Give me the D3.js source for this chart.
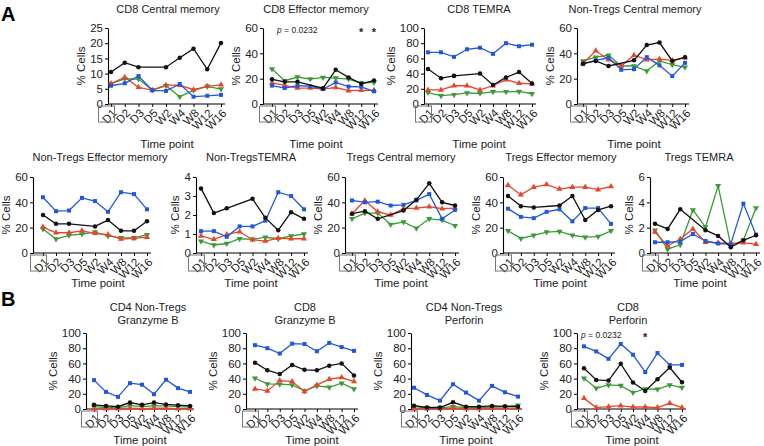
<!DOCTYPE html>
<html><head><meta charset="utf-8">
<script src="https://cdn.jsdelivr.net/npm/d3@7"></script>
<style>body{margin:0;background:#fff} text{font-family:"Liberation Sans",Arial,sans-serif;fill:#222}</style>
</head><body><svg id="c" width="764" height="446"></svg>
<script>
const timePoints = ["D1","D2","D3","D5","W2","W4","W8","W12","W16"];
const panelTitles = [
  ["CD8 Central memory"],["CD8 Effector memory"],["CD8 TEMRA"],["Non-Tregs Central memory"],
  ["Non-Tregs Effector memory"],["Non-TregsTEMRA"],["Tregs Central memory"],["Tregs Effector memory"],["Tregs TEMRA"],
  ["CD4 Non-Tregs","Granzyme B"],["CD8","Granzyme B"],["CD4 Non-Tregs","Perforin"],["CD8","Perforin"]
];
const yMaxes = [25,60,100,60, 60,4,60,60,6, 100,100,100,100];
const yStepsTick = [5,20,20,20, 20,1,20,20,2, 20,20,20,20];

// series values (black, blue, red, green) per panel
const cd8CM_black = [10.5,13.6,12.1,null,12.1,15.2,18.2,11.4,20.1];
const cd8CM_blue  = [6,6.8,9.2,4.5,4.3,6.6,2.4,2.7,3.0];
const cd8CM_red   = [6.7,8.8,5.5,4.6,6.2,6.2,4.7,5.8,6.3];
const cd8CM_green = [6.7,8.3,8.2,4.6,6,2.4,4.5,5.8,4.9];

const cd8EM_black = [19.5,17.5,17.5,null,12.5,27,21,16,18.5];
const cd8EM_blue  = [14.5,12.6,14.5,14,11.8,17,13.8,13.6,10];
const cd8EM_red   = [16.6,14.7,12.6,12.6,11.8,13,10.5,10.8,10.8];
const cd8EM_green = [27.6,18.4,21.3,19.7,21,20.5,19.7,16.6,17];

const cd8TEMRA_black = [46,34,37,null,40,25,35,42,27];
const cd8TEMRA_blue  = [68,68,62,72,74,66,80,76,78];
const cd8TEMRA_red   = [18.5,18.5,24,24,18.5,24,32,27.3,26.4];
const cd8TEMRA_green = [15,11,12.3,14.5,14,16,16,16.5,13.5];

const ntCM_black = [32,34,30,null,34.5,46.5,48.5,34,37];
const ntCM_blue  = [31.5,34.5,36.5,27,27.5,37,30.5,22,32.5];
const ntCM_red   = [32,42,35,30,38.5,35,35.5,34.5,36.5];
const ntCM_green = [34,37,38.5,30,30,26,34,31,29];

const ntEM_black = [30,23,23,null,21,26,17.5,17.5,25];
const ntEM_blue  = [44,33,33.5,43.5,41,32.5,48,46.5,34.5];
const ntEM_red   = [20.5,16,16,17.5,15.5,14.5,11,11.5,12.5];
const ntEM_green = [19,11,14,15,16.5,13.5,12,12,14.5];

const ntTEMRA_black = [3.4,2.1,2.35,null,2.85,1.85,1.2,2.15,1.8];
const ntTEMRA_blue  = [1.15,1.15,0.85,1.4,1.4,1.7,3.2,3.0,2.3];
const ntTEMRA_red   = [0.9,0.72,0.97,1.12,0.7,0.63,0.78,0.75,0.75];
const ntTEMRA_green = [0.62,0.42,0.5,0.75,0.72,0.83,0.75,0.9,1.0];

const tregCM_black = [31,33,27,null,33.5,42,55,40,37.5];
const tregCM_blue  = [41.5,40,40.5,37.5,38,41.5,46.5,27,34];
const tregCM_red   = [31,41.5,32.5,30,35,35.5,36.5,35,35.5];
const tregCM_green = [27,31.5,31.5,22.5,24.5,19.5,27,26,21.5];

const tregEM_black = [45,37,36,null,37.5,45,26,34,37];
const tregEM_blue  = [35,28.5,27.5,32.5,34.5,25,35.5,35.5,23];
const tregEM_red   = [53.5,46,52,54,50.5,52,52,50,52.5];
const tregEM_green = [17.5,11.5,14,16.5,17,14,12.5,13,17.5];

const tregTEMRA_black = [2.3,1.9,3.45,null,1.8,1.35,0.45,1.0,1.4];
const tregTEMRA_blue  = [0.85,0.85,0.9,1.5,0.95,0.75,0.7,3.9,1.45];
const tregTEMRA_red   = [1.65,0.55,1.1,1.9,0.85,0.8,0.75,0.8,0.7];
const tregTEMRA_green = [1.8,0.3,0.65,3.4,2.05,5.3,0.6,1.0,3.55];

const cd4GzmB_black = [5.5,4,3,8.5,5.5,8.5,6,5,4];
const cd4GzmB_blue  = [38,22.5,16,34,32,19.5,38.5,27.5,22.5];
const cd4GzmB_red   = [0.5,0.5,0.5,1,0.5,1,1,0.5,0.5];
const cd4GzmB_green = [3,2,1.5,4.5,3,4,4,3,2.5];

const cd8GzmB_black = [61,51,46,58,51.5,51,57,60,44];
const cd8GzmB_blue  = [84,80,73,86,85.5,76,87,81.5,76.5];
const cd8GzmB_red   = [26.4,23.8,37.4,36.1,23,31.7,39.2,41.4,36.1];
const cd8GzmB_green = [40.5,33,32.6,31.7,23.8,30.4,28.6,34,26.4];

const cd4Prf_black = [4.4,2,2,8.8,3,3,4,3.5,3];
const cd4Prf_blue  = [28,18.5,11,32.6,21.6,11,30.4,22,16.3];
const cd4Prf_red   = [0.5,0.5,0.5,1,0.5,0.5,1,1,1];
const cd4Prf_green = [3,1.5,1.5,3,2,2,2.5,3,5];

const cd8Prf_black = [53.7,38.3,37.4,59.5,34.8,23.8,39.2,54.6,35.2];
const cd8Prf_blue  = [82.4,75.8,66,85.5,71.4,48.5,73.6,58,58];
const cd8Prf_red   = [14,1.8,3,4.4,2.6,2.6,1.8,7.5,1.8];
const cd8Prf_green = [40.5,27.3,31.7,30.8,21.6,26.4,26,31.7,28.2];

const panelSeries = [
  [cd8CM_black,cd8CM_blue,cd8CM_red,cd8CM_green],
  [cd8EM_black,cd8EM_blue,cd8EM_red,cd8EM_green],
  [cd8TEMRA_black,cd8TEMRA_blue,cd8TEMRA_red,cd8TEMRA_green],
  [ntCM_black,ntCM_blue,ntCM_red,ntCM_green],
  [ntEM_black,ntEM_blue,ntEM_red,ntEM_green],
  [ntTEMRA_black,ntTEMRA_blue,ntTEMRA_red,ntTEMRA_green],
  [tregCM_black,tregCM_blue,tregCM_red,tregCM_green],
  [tregEM_black,tregEM_blue,tregEM_red,tregEM_green],
  [tregTEMRA_black,tregTEMRA_blue,tregTEMRA_red,tregTEMRA_green],
  [cd4GzmB_black,cd4GzmB_blue,cd4GzmB_red,cd4GzmB_green],
  [cd8GzmB_black,cd8GzmB_blue,cd8GzmB_red,cd8GzmB_green],
  [cd4Prf_black,cd4Prf_blue,cd4Prf_red,cd4Prf_green],
  [cd8Prf_black,cd8Prf_blue,cd8Prf_red,cd8Prf_green]
];
const pValueText = "0.0232";
const significance = [ {panel:1, tps:["W12","W16"]}, {panel:12, tps:["W4"]} ];

// styling / layout
const colors = ["#111111","#2157dc","#e5462c","#3a9a35"];
const drawOrder = [3,2,1,0];
const rows = [
  {yTop:28, yBot:104, titleY:13, xlabY:148},
  {yTop:177, yBot:253, titleY:161, xlabY:287},
  {yTop:333, yBot:409, titleY:311, xlabY:444}
];
const layout = [
  {r:0, ax:108, x0:111, x1:221, cx:167, tx:168},
  {r:0, ax:263, x0:272, x1:374, cx:316, tx:316},
  {r:0, ax:424, x0:428, x1:532, cx:479, tx:479},
  {r:0, ax:577, x0:583, x1:685, cx:634, tx:635},
  {r:1, ax:33, x0:43, x1:147, cx:98, tx:100},
  {r:1, ax:196, x0:201, x1:304, cx:251, tx:251},
  {r:1, ax:345, x0:352, x1:455, cx:401, tx:401},
  {r:1, ax:503, x0:508, x1:611, cx:560, tx:561},
  {r:1, ax:650, x0:655, x1:756, cx:700, tx:699},
  {r:2, ax:86, x0:94, x1:190, cx:140, tx:148},
  {r:2, ax:246, x0:255, x1:354, cx:312, tx:305},
  {r:2, ax:411, x0:414, x1:518, cx:466, tx:464},
  {r:2, ax:577, x0:584, x1:682, cx:632, tx:628}
];

const svg = d3.select("#c");
svg.append("text").attr("x",1).attr("y",21).attr("font-size",20).attr("font-weight","bold").style("fill","#000").text("A");
svg.append("text").attr("x",1).attr("y",306).attr("font-size",20).attr("font-weight","bold").style("fill","#000").text("B");

const symbolOf = [d3.symbolCircle, d3.symbolSquare, d3.symbolTriangle, d3.symbolTriangle];
const symSize = [16,16,16,16];

panelSeries.forEach((series, i) => {
  const L = layout[i], R = rows[L.r];
  const x = d3.scalePoint().domain(timePoints).range([L.x0, L.x1]);
  const y = d3.scaleLinear().domain([0, yMaxes[i]]).range([R.yBot, R.yTop]);
  const g = svg.append("g");

  // y axis
  const ya = g.append("g").attr("transform",`translate(${L.ax},0)`)
    .call(d3.axisLeft(y).tickValues(d3.range(0, yMaxes[i]+1e-9, yStepsTick[i])).tickSize(3).tickSizeOuter(0).tickPadding(2).tickFormat(d3.format("d")));
  ya.select(".domain").attr("stroke","#000").attr("stroke-width",1.1);
  ya.selectAll(".tick line").attr("stroke","#000");
  ya.selectAll(".tick text").attr("font-size",11.5).attr("font-family","Liberation Sans, Arial, sans-serif").style("fill","#222");
  let maxW = 0;
  ya.selectAll(".tick text").each(function(){ maxW = Math.max(maxW, this.getBBox().width); });

  // x axis
  g.append("line").attr("x1",L.ax).attr("x2",L.x1+4).attr("y1",R.yBot).attr("y2",R.yBot).attr("stroke","#000").attr("stroke-width",1.1);
  const xa = g.append("g").attr("transform",`translate(0,${R.yBot})`)
    .call(d3.axisBottom(x).tickSize(3).tickSizeOuter(0));
  xa.select(".domain").remove();
  xa.selectAll(".tick line").attr("stroke","#000");
  xa.selectAll(".tick text").attr("font-size",11.5).attr("font-family","Liberation Sans, Arial, sans-serif")
    .attr("text-anchor","end").attr("x",0).attr("y",0).attr("dy","0.35em")
    .attr("transform","translate(3,7) rotate(-45)").style("fill","#222");
  xa.selectAll(".tick").filter(d => d === "D1").append("rect")
    .attr("x",-13).attr("y",2).attr("width",16).attr("height",16)
    .attr("fill","none").attr("stroke","#777").attr("stroke-width",1);

  // title
  panelTitles[i].forEach((t, k) => {
    g.append("text").attr("x",L.tx).attr("y",R.titleY + k*13).attr("text-anchor","middle")
      .attr("font-size",11).text(t);
  });
  // y label
  const ylx = L.ax - 5 - maxW - 5;
  g.append("text").attr("transform",`translate(${ylx},${(R.yTop+R.yBot)/2}) rotate(-90)`)
    .attr("text-anchor","middle").attr("font-size",11.5).text("% Cells");
  // x label
  g.append("text").attr("x",L.cx).attr("y",R.xlabY).attr("text-anchor","middle").attr("font-size",11.5).text("Time point");

  // series
  drawOrder.forEach(s => {
    const pts = timePoints.map((t,j) => ({t, v: series[s][j]})).filter(d => d.v !== null);
    g.append("path").datum(pts)
      .attr("d", d3.line().x(d => x(d.t)).y(d => y(d.v)))
      .attr("fill","none").attr("stroke",colors[s]).attr("stroke-width",1.3);
    g.selectAll(null).data(pts).enter().append("path")
      .attr("d", d3.symbol().type(symbolOf[s]).size(symSize[s]))
      .attr("transform", d => `translate(${x(d.t)},${y(d.v)})` + (s===3 ? " rotate(180)" : ""))
      .attr("fill",colors[s]);
  });

  // significance
  significance.filter(sg => sg.panel === i).forEach(sg => {
    const t = g.append("text").attr("x", L.ax + (i===1?14:4)).attr("y", R.yTop + 5).attr("font-size",8.5);
    t.append("tspan").attr("font-style","italic").text("p");
    t.append("tspan").text(" = " + pValueText);
    sg.tps.forEach(tp => {
      g.append("text").attr("x", x(tp)).attr("y", R.yTop + 8).attr("text-anchor","middle")
        .attr("font-size",11).attr("font-weight","bold").text("*");
    });
  });
});
</script></body></html>
